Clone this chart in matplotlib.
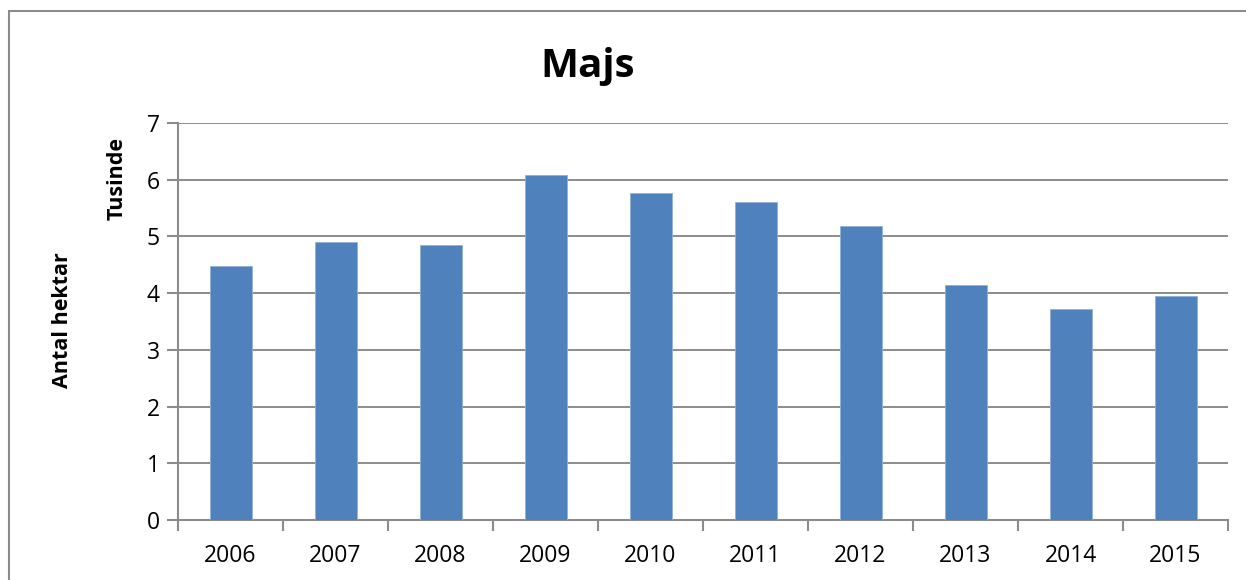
import matplotlib
matplotlib.use('Agg')
import matplotlib.pyplot as plt
from matplotlib.patches import Rectangle

# Majs - antal hektar (tusinde)
years = ['2006', '2007', '2008', '2009', '2010', '2011', '2012', '2013', '2014', '2015']
hektar = [4.48, 4.91, 4.85, 6.08, 5.76, 5.61, 5.18, 4.14, 3.72, 3.95]

plt.rcParams['font.family'] = ['Open Sans', 'DejaVu Sans']

fig = plt.figure(figsize=(12.46, 5.8), dpi=100)
ax = fig.add_axes([178 / 1246, 60 / 580, 1050 / 1246, 397 / 580])

# outer chart border (cut off at right and bottom like the original)
fig.patches.append(Rectangle((9 / 1246, -0.1), 1.2, 1.1 - 11 / 580, transform=fig.transFigure,
                             fill=False, edgecolor='#8c8c8c', linewidth=1.5))

x = list(range(len(years)))
ax.bar(x, hektar, width=0.4, color='#4f81bd', edgecolor='#8fb0d8', linewidth=0.6, zorder=3)

ax.set_xlim(-0.5, len(years) - 0.5)
ax.set_ylim(0, 7)
ax.set_yticks(range(0, 8))
ax.set_xticks(x)
ax.set_xticklabels(years)
ax.set_xticks([i - 0.5 for i in range(len(years) + 1)], minor=True)

ax.grid(axis='y', color='#8c8c8c', linewidth=1.4, zorder=0)
for s in ['top', 'right']:
    ax.spines[s].set_visible(False)
ax.spines['left'].set_color('#8c8c8c')
ax.spines['bottom'].set_color('#8c8c8c')
ax.spines['left'].set_linewidth(1.5)
ax.spines['bottom'].set_linewidth(1.5)

ax.tick_params(axis='y', length=8, width=1.5, color='#8c8c8c', labelsize=16.5, pad=5)
ax.tick_params(axis='x', which='major', length=0, labelsize=16.5, pad=17)
ax.tick_params(axis='x', which='minor', length=8, width=1.5, color='#8c8c8c')

fig.text(588 / 1246, 1 - 67 / 580, 'Majs', ha='center', va='center', fontsize=29, fontweight='bold')
fig.text(62 / 1246, 1 - 320 / 580, 'Antal hektar', ha='center', va='center', rotation=90,
         fontsize=15.5, fontweight='bold')
fig.text(117 / 1246, 1 - 178 / 580, 'Tusinde', ha='center', va='center', rotation=90,
         fontsize=15.5, fontweight='bold')

fig.savefig('out.png', dpi=100)
